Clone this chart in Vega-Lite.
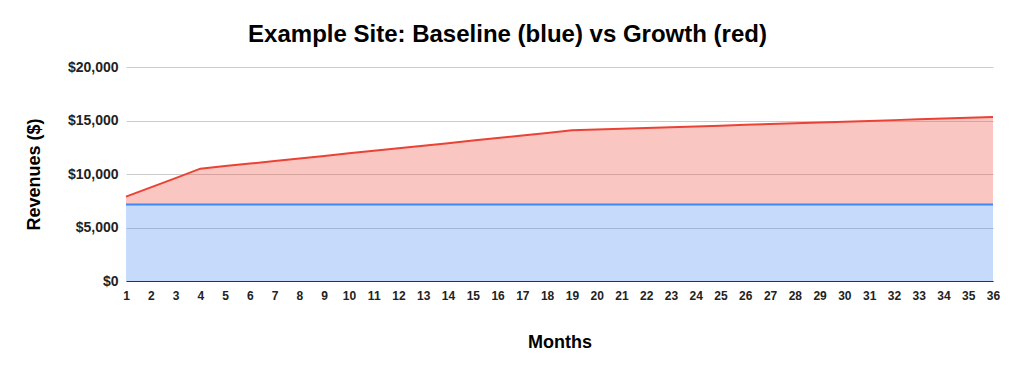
{
  "$schema": "https://vega.github.io/schema/vega-lite/v6.json",
  "autosize": "none",
  "width": 867,
  "height": 214,
  "padding": {"left": 126, "top": 67, "right": 20, "bottom": 90},
  "background": "white",
  "title": {
    "text": "Example Site: Baseline (blue) vs Growth (red)",
    "font": "Liberation Sans",
    "fontSize": 24,
    "fontWeight": "bold",
    "color": "#000000",
    "anchor": "middle",
    "offset": 13,
    "dx": -52
  },
  "config": {
    "view": {"stroke": null},
    "axis": {
      "labelFont": "Liberation Sans",
      "labelFontWeight": "bold",
      "labelFontSize": 12,
      "labelColor": "#222222",
      "titleFont": "Liberation Sans",
      "titleFontWeight": "bold",
      "titleColor": "#000000",
      "ticks": false
    }
  },
  "data": {
    "values": [
      {"month": 1, "baseline": 7150, "growth": 7880},
      {"month": 2, "baseline": 7150, "growth": 8750},
      {"month": 3, "baseline": 7150, "growth": 9620},
      {"month": 4, "baseline": 7150, "growth": 10500},
      {"month": 5, "baseline": 7150, "growth": 10740},
      {"month": 6, "baseline": 7150, "growth": 10975},
      {"month": 7, "baseline": 7150, "growth": 11215},
      {"month": 8, "baseline": 7150, "growth": 11455},
      {"month": 9, "baseline": 7150, "growth": 11690},
      {"month": 10, "baseline": 7150, "growth": 11930},
      {"month": 11, "baseline": 7150, "growth": 12170},
      {"month": 12, "baseline": 7150, "growth": 12405},
      {"month": 13, "baseline": 7150, "growth": 12645},
      {"month": 14, "baseline": 7150, "growth": 12885},
      {"month": 15, "baseline": 7150, "growth": 13125},
      {"month": 16, "baseline": 7150, "growth": 13360},
      {"month": 17, "baseline": 7150, "growth": 13600},
      {"month": 18, "baseline": 7150, "growth": 13840},
      {"month": 19, "baseline": 7150, "growth": 14080},
      {"month": 20, "baseline": 7150, "growth": 14155},
      {"month": 21, "baseline": 7150, "growth": 14230},
      {"month": 22, "baseline": 7150, "growth": 14300},
      {"month": 23, "baseline": 7150, "growth": 14375},
      {"month": 24, "baseline": 7150, "growth": 14450},
      {"month": 25, "baseline": 7150, "growth": 14520},
      {"month": 26, "baseline": 7150, "growth": 14595},
      {"month": 27, "baseline": 7150, "growth": 14670},
      {"month": 28, "baseline": 7150, "growth": 14740},
      {"month": 29, "baseline": 7150, "growth": 14815},
      {"month": 30, "baseline": 7150, "growth": 14890},
      {"month": 31, "baseline": 7150, "growth": 14960},
      {"month": 32, "baseline": 7150, "growth": 15035},
      {"month": 33, "baseline": 7150, "growth": 15110},
      {"month": 34, "baseline": 7150, "growth": 15180},
      {"month": 35, "baseline": 7150, "growth": 15255},
      {"month": 36, "baseline": 7150, "growth": 15330}
    ]
  },
  "encoding": {
    "x": {
      "field": "month",
      "type": "quantitative",
      "scale": {"domain": [1, 36], "nice": false, "zero": false},
      "axis": {
        "title": "Months",
        "titleFontSize": 18,
        "titlePadding": 32,
        "values": [1,2,3,4,5,6,7,8,9,10,11,12,13,14,15,16,17,18,19,20,21,22,23,24,25,26,27,28,29,30,31,32,33,34,35,36],
        "grid": false,
        "domainColor": "#333333",
        "domainWidth": 1,
        "labelPadding": 9,
        "labelFlush": false
      }
    }
  },
  "layer": [
    {
      "mark": {"type": "area", "color": "#4285f4", "opacity": 0.3},
      "encoding": {
        "y": {
          "field": "baseline",
          "type": "quantitative",
          "scale": {"domain": [0, 20000], "nice": false},
          "axis": {
            "title": "Revenues ($)",
            "titleFontSize": 18,
            "titlePadding": 24,
            "values": [0, 5000, 10000, 15000, 20000],
            "format": "$,.0f",
            "grid": true,
            "gridColor": "#cccccc",
            "domain": false,
            "labelFontSize": 14,
            "labelPadding": 8
          }
        },
        "y2": {"datum": 0}
      }
    },
    {
      "mark": {"type": "area", "color": "#ea4335", "opacity": 0.3},
      "encoding": {
        "y": {"field": "growth", "type": "quantitative"},
        "y2": {"field": "baseline"}
      }
    },
    {
      "mark": {"type": "line", "color": "#4285f4", "strokeWidth": 2},
      "encoding": {"y": {"field": "baseline", "type": "quantitative"}}
    },
    {
      "mark": {"type": "line", "color": "#ea4335", "strokeWidth": 2},
      "encoding": {"y": {"field": "growth", "type": "quantitative"}}
    }
  ]
}
